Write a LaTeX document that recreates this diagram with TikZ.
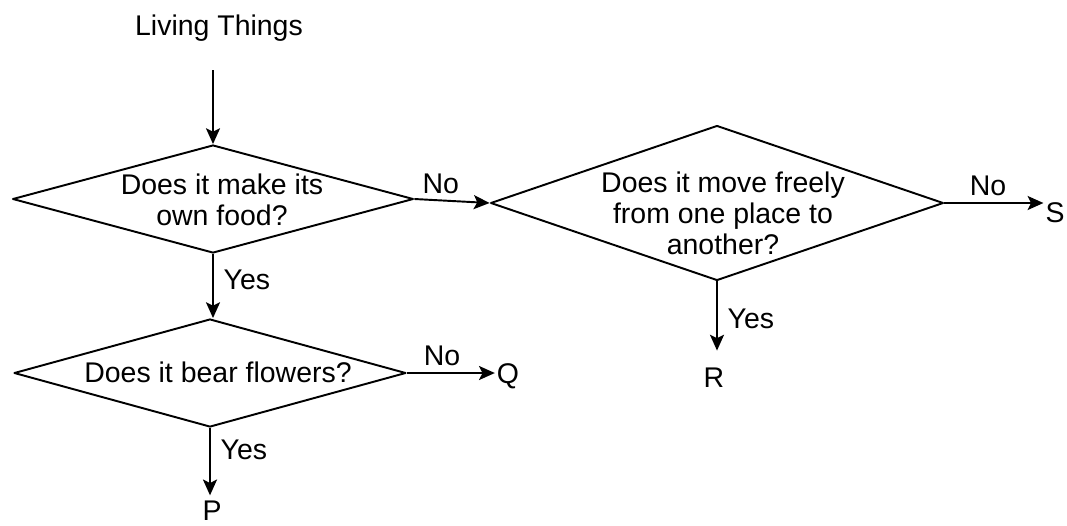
\documentclass[tikz,border=0pt]{standalone}
\usepackage{fontspec}
\setmainfont{Liberation Sans}
\usetikzlibrary{shapes.geometric,arrows.meta}

\tikzset{
  decision/.style={draw, diamond, inner sep=0pt, line width=1.1pt},
  qtext/.style={align=center, anchor=base, inner sep=0pt},
  endtxt/.style={anchor=base, inner sep=1pt},
  lbl/.style={inner sep=3.5pt},
  arr/.style={-{Stealth[length=9pt,width=8pt,inset=2pt]}, line width=1.1pt},
}

\begin{document}
\begin{tikzpicture}[x=0.02cm, y=-0.02cm, font=\fontsize{16.2}{17.6}\selectfont, line join=round]
\useasboundingbox (0,0) rectangle (1067,525);

% questions
\node[decision, minimum width=8.02cm, minimum height=2.16cm] (own) at (213,199) {};
\node[decision, minimum width=9.06cm, minimum height=3.1cm] (move) at (717,203) {};
\node[decision, minimum width=7.84cm, minimum height=2.16cm] (flower) at (210,373) {};

% base of a multi-line text is its last line
\node[qtext] (owntxt) at (222,225) {Does it make its\\own food?};
\node[qtext] (movetxt) at (723,254) {Does it move freely\\from one place to\\another?};
\node[qtext] (flowertxt) at (218,382) {Does it bear flowers?};

% start and ends
\node[endtxt] (living) at (219,35) {Living Things};
\node[endtxt] (S) at (1055,222) {S};
\node[endtxt] (R) at (714,387) {R};
\node[endtxt] (Q) at (508,383) {Q};
\node[endtxt] (P) at (212,520) {P};

% connectors
\draw[arr, shorten <=15.5pt] (own.north |- living.south) -- (own.north);
\draw[arr] (own.east) -- node[lbl, above, pos=0.35]{No} (move.west);
\draw[arr] (move.east) -- node[lbl, above, pos=0.44]{No} (move.east -| S.west);
\draw[arr, shorten >=8.4pt] (move.south) -- node[lbl, right=2pt, pos=0.45]{Yes} (move.south |- R.north);
\draw[arr] (own.south) -- node[lbl, right=2pt, pos=0.4]{Yes} (own.south |- flower.north);
\draw[arr] (flower.east) -- node[lbl, above, pos=0.4]{No} (flower.east -| Q.west);
\draw[arr, shorten >=1.7pt] (flower.south) -- node[lbl, right=2pt, pos=0.31]{Yes} (flower.south |- P.north);
\end{tikzpicture}
\end{document}
